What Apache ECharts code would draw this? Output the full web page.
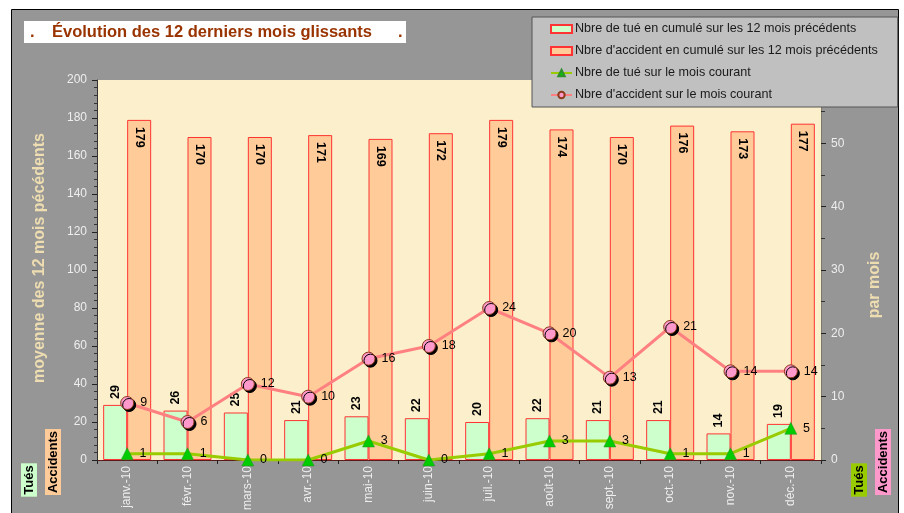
<!DOCTYPE html>
<html>
<head>
<meta charset="utf-8">
<script src="https://cdn.jsdelivr.net/npm/echarts@6/dist/echarts.min.js"></script>
<style>html,body{margin:0;padding:0;background:#fff;}#c{width:904px;height:513px;}</style>
</head>
<body>
<div id="c"></div>
<script>
const categories = ['janv.-10','févr.-10','mars-10','avr.-10','mai-10','juin-10','juil.-10','août-10','sept.-10','oct.-10','nov.-10','déc.-10'];
const tuesCumul = [29, 26, 25, 21, 23, 22, 20, 22, 21, 21, 14, 19];
const accidentsCumul = [179, 170, 170, 171, 169, 172, 179, 174, 170, 176, 173, 177];
const tuesMois = [1, 1, 0, 0, 3, 0, 1, 3, 3, 1, 1, 5];
const accidentsMois = [9, 6, 12, 10, 16, 18, 24, 20, 13, 21, 14, 14];
const seriesNames = [
  'Nbre de tué en cumulé sur les 12 mois précédents',
  "Nbre d'accident en cumulé sur les 12 mois précédents",
  'Nbre de tué sur le mois courant',
  "Nbre d'accident sur le mois courant"
];

const FONT = '"Liberation Sans", Arial, sans-serif';
const chart = echarts.init(document.getElementById('c'), null, {renderer: 'canvas'});

function boxText(x, y, text, bg) {
  return {
    type: 'text', x: x, y: y, rotation: Math.PI / 2, z: 50,
    style: {
      text: text, fill: '#000', font: 'bold 13px ' + FONT,
      align: 'center', verticalAlign: 'middle',
      backgroundColor: bg, padding: [2, 2, 1, 2]
    }
  };
}

const option = {
  backgroundColor: '#ffffff',
  animation: false,
  textStyle: {fontFamily: FONT},
  grid: {
    left: 97, right: 83, top: 80, bottom: 53,
    show: true, backgroundColor: '#FCF0CC', borderWidth: 0
  },
  legend: {
    orient: 'vertical', left: 532, top: 17,
    backgroundColor: '#C0C0C0', borderColor: '#555', borderWidth: 1,
    padding: [5, 20, 5, 18], itemGap: 8, itemWidth: 21, itemHeight: 8,
    textStyle: {color: '#1a1a1a', fontSize: 12.6, lineHeight: 14, fontFamily: FONT, padding: [0, 0, 0, -2]},
    z: 20,
    data: [
      {name: seriesNames[0], icon: 'rect'},
      {name: seriesNames[1], icon: 'rect'},
      {name: seriesNames[2]},
      {name: seriesNames[3]}
    ]
  },
  xAxis: {
    type: 'category', data: categories,
    axisLine: {lineStyle: {color: '#5a1a1a', width: 1}},
    axisTick: {show: true, length: 4, lineStyle: {color: '#222'}},
    axisLabel: {rotate: 90, color: '#EEEEEE', fontSize: 12, fontFamily: FONT, margin: 6},
    splitLine: {show: false}
  },
  yAxis: [
    {
      type: 'value', min: 0, max: 200, interval: 20, position: 'left',
      axisLine: {show: true, lineStyle: {color: '#333'}},
      axisTick: {show: true, length: 5, lineStyle: {color: '#222'}},
      minorTick: {show: true, splitNumber: 5, length: 3, lineStyle: {color: '#333'}},
      axisLabel: {color: '#EEEEEE', fontSize: 12, fontFamily: FONT, margin: 10},
      splitLine: {show: false}
    },
    {
      type: 'value', min: 0, max: 60, interval: 10, position: 'right',
      axisLine: {show: true, lineStyle: {color: '#7a7a6a'}},
      axisTick: {show: true, length: 5, lineStyle: {color: '#222'}},
      minorTick: {show: true, splitNumber: 2, length: 4, lineStyle: {color: '#333'}},
      axisLabel: {color: '#EEEEEE', fontSize: 12, fontFamily: FONT, margin: 10},
      splitLine: {show: false}
    }
  ],
  series: [
    {
      name: seriesNames[0], type: 'bar', yAxisIndex: 0, data: tuesCumul,
      barWidth: 24, barGap: '0%',
      itemStyle: {color: '#CCFFCC', borderColor: '#FF3333', borderWidth: 1},
      label: {
        show: true, position: 'top', distance: 6, rotate: 90,
        align: 'left', verticalAlign: 'middle',
        color: '#000', fontWeight: 'bold', fontSize: 12.5, fontFamily: FONT
      }
    },
    {
      name: seriesNames[1], type: 'bar', yAxisIndex: 0, data: accidentsCumul,
      barWidth: 24, barGap: '0%',
      itemStyle: {color: '#FFCC99', borderColor: '#FF3333', borderWidth: 1},
      label: {
        show: true, position: 'insideTop', distance: 7, rotate: -90,
        align: 'left', verticalAlign: 'middle',
        color: '#000', fontWeight: 'bold', fontSize: 12.5, fontFamily: FONT
      }
    },
    {
      name: seriesNames[2], type: 'line', yAxisIndex: 1, data: tuesMois,
      symbol: 'triangle', symbolSize: 12,
      lineStyle: {color: '#99CC00', width: 3},
      itemStyle: {color: '#00CC00', borderColor: '#2f8f2f', borderWidth: 0.5},
      label: {show: true, position: 'right', distance: 6, color: '#000', fontSize: 12.5, fontFamily: FONT},
      z: 5
    },
    {
      name: seriesNames[3], type: 'line', yAxisIndex: 1, data: accidentsMois,
      symbol: 'circle', symbolSize: 13,
      lineStyle: {color: '#FF8080', width: 3},
      itemStyle: {
        color: '#FF99CC', borderColor: '#8B3a1a', borderWidth: 1,
        shadowColor: '#000', shadowOffsetX: 2, shadowOffsetY: 2, shadowBlur: 0
      },
      label: {show: true, position: 'right', distance: 6, color: '#000', fontSize: 12.5, fontFamily: FONT},
      z: 6
    }
  ],
  graphic: [
    {
      type: 'rect', z: -100, silent: true,
      shape: {x: 11.5, y: 9.5, width: 887, height: 520},
      style: {fill: '#969696', stroke: '#000', lineWidth: 1}
    },
    {
      type: 'rect', z: 50, shape: {x: 24, y: 21, width: 382, height: 22},
      style: {fill: '#fff'}
    },
    {type: 'text', x: 30, y: 32, z: 51, style: {text: '.', fill: '#993300', font: 'bold 16.5px ' + FONT, verticalAlign: 'middle'}},
    {type: 'text', x: 52, y: 32, z: 51, style: {text: 'Évolution des 12 derniers mois glissants', fill: '#993300', font: 'bold 16.5px ' + FONT, verticalAlign: 'middle'}},
    {type: 'text', x: 398, y: 32, z: 51, style: {text: '.', fill: '#993300', font: 'bold 16.5px ' + FONT, verticalAlign: 'middle'}},
    {
      type: 'text', x: 40, y: 258, rotation: Math.PI / 2, z: 50,
      style: {text: 'moyenne des 12 mois pécédents', fill: '#EEDDB0', font: 'bold 16px ' + FONT, align: 'center', verticalAlign: 'middle'}
    },
    {
      type: 'text', x: 875, y: 285, rotation: Math.PI / 2, z: 50,
      style: {text: 'par mois', fill: '#EEDDB0', font: 'bold 16px ' + FONT, align: 'center', verticalAlign: 'middle'}
    },
    boxText(29, 480, 'Tués', '#CCFFCC'),
    boxText(53, 462, 'Accidents', '#FFCC99'),
    boxText(859, 480, 'Tués', '#99CC00'),
    boxText(883, 462, 'Accidents', '#FF99CC')
  ]
};
chart.setOption(option);
</script>
</body>
</html>
